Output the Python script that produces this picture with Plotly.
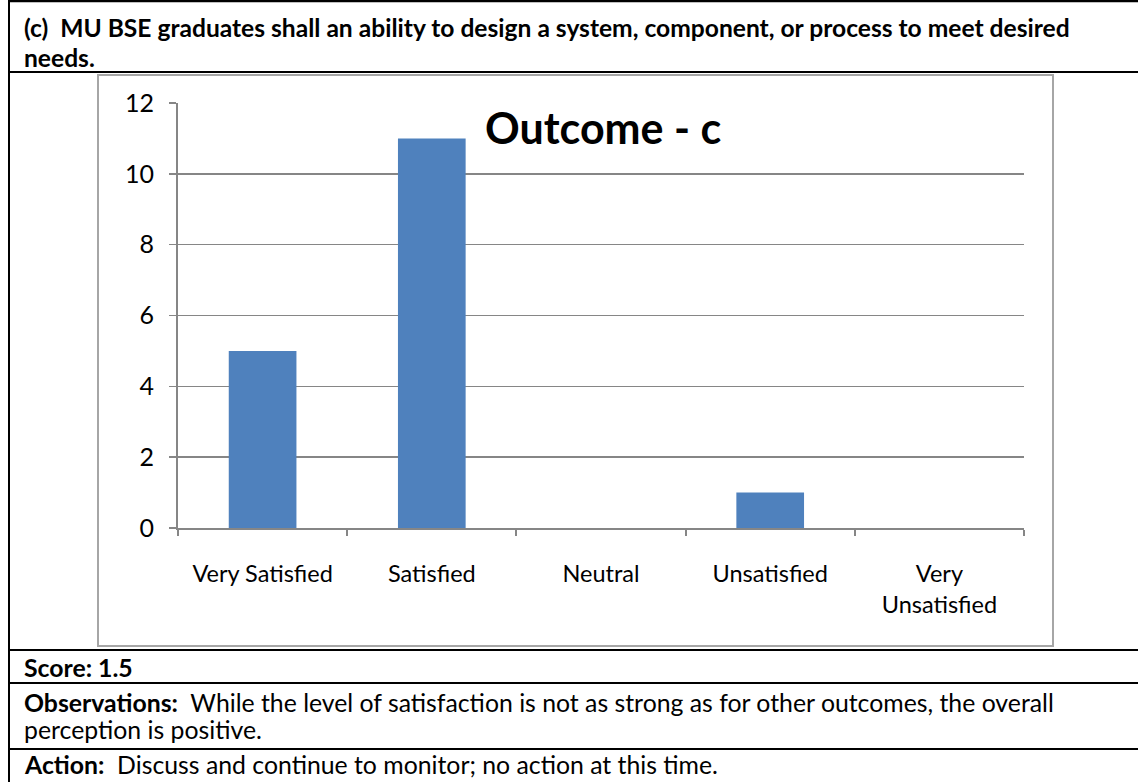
import plotly.graph_objects as go

categories = ["Very Satisfied", "Satisfied", "Neutral", "Unsatisfied", "Very<br>Unsatisfied"]
counts = [5, 11, 0, 1, 0]
y_ticks = [0, 2, 4, 6, 8, 10, 12]

chart_title = "Outcome - c"
header_lines = [
    "(c)  MU BSE graduates shall an ability to design a system, component, or process to meet desired",
    "needs.",
]
score_text = "<b>Score: 1.5</b>"
obs_lines = [
    "<b>Observations:</b>  While the level of satisfaction is not as strong as for other outcomes, the overall",
    "perception is positive.",
]
action_text = "<b>Action:</b>  Discuss and continue to monitor; no action at this time."

W, H = 1138, 782
L, R, T, B = 178, 1024, 103, 528
PW, PH = R - L, B - T

def px(x):
    return (x - L) / PW

def py(y):
    return (B - y) / PH

FONT = "Lato"

fig = go.Figure()
fig.add_trace(go.Bar(
    x=categories, y=counts,
    marker=dict(color="#4F81BD", line=dict(width=0)),
    width=0.4,
    hoverinfo="skip",
))

shapes = []
# table borders
shapes.append(dict(type="line", xref="paper", yref="paper", x0=px(9), x1=px(9), y0=py(0), y1=py(H),
                   line=dict(color="black", width=2)))
for yy in [1, 72, 650, 683, 749]:
    shapes.append(dict(type="line", xref="paper", yref="paper", x0=px(9), x1=px(W + 5), y0=py(yy), y1=py(yy),
                       line=dict(color="black", width=2.5 if yy == 1 else 2)))
# chart frame
shapes.append(dict(type="rect", xref="paper", yref="paper", x0=px(98), x1=px(1053), y0=py(75), y1=py(646),
                   line=dict(color="#A6A6A6", width=2), layer="below"))

annotations = []
def txt(s, x, y, size=24.8, bold=False, anchor="left"):
    annotations.append(dict(text=("<b>%s</b>" % s) if bold else s, xref="paper", yref="paper",
                            x=px(x), y=py(y), xanchor=anchor, yanchor="middle", showarrow=False,
                            font=dict(family=FONT, size=size, color="black")))

txt(header_lines[0], 22, 28, 24.6, True)
txt(header_lines[1], 22, 57, 24.6, True)
txt(score_text, 22, 667)
txt(obs_lines[0], 22, 702)
txt(obs_lines[1], 22, 729)
txt(action_text, 22, 764)
txt(chart_title, 603, 127, 43, True, anchor="center")

fig.update_layout(
    width=W, height=H,
    margin=dict(l=L, r=W - R, t=T, b=H - B, autoexpand=False),
    paper_bgcolor="white", plot_bgcolor="white",
    showlegend=False,
    bargap=0.6,
    shapes=shapes,
    annotations=annotations,
    font=dict(family=FONT, size=24, color="black"),
    xaxis=dict(
        type="category",
        showline=True, linecolor="#868686", linewidth=2,
        ticks="outside", tickson="boundaries", ticklen=6, tickcolor="#868686", tickwidth=2,
        ticklabelstandoff=24,
        tickfont=dict(family=FONT, size=23.5, color="black"),
        showgrid=False, fixedrange=True,
    ),
    yaxis=dict(
        range=[0, 12], tickvals=y_ticks,
        showline=True, linecolor="#868686", linewidth=2,
        ticks="outside", ticklen=7, tickcolor="#868686", tickwidth=1.5,
        showgrid=True, gridcolor="#868686", gridwidth=1.5,
        zeroline=False,
        ticklabelstandoff=10,
        tickfont=dict(family=FONT, size=25, color="black"),
        fixedrange=True,
    ),
)

fig.write_html(
    "out.html",
    config={"displayModeBar": False, "staticPlot": True},
    post_script="document.body.style.margin='0';document.body.style.overflow='hidden';",
)
